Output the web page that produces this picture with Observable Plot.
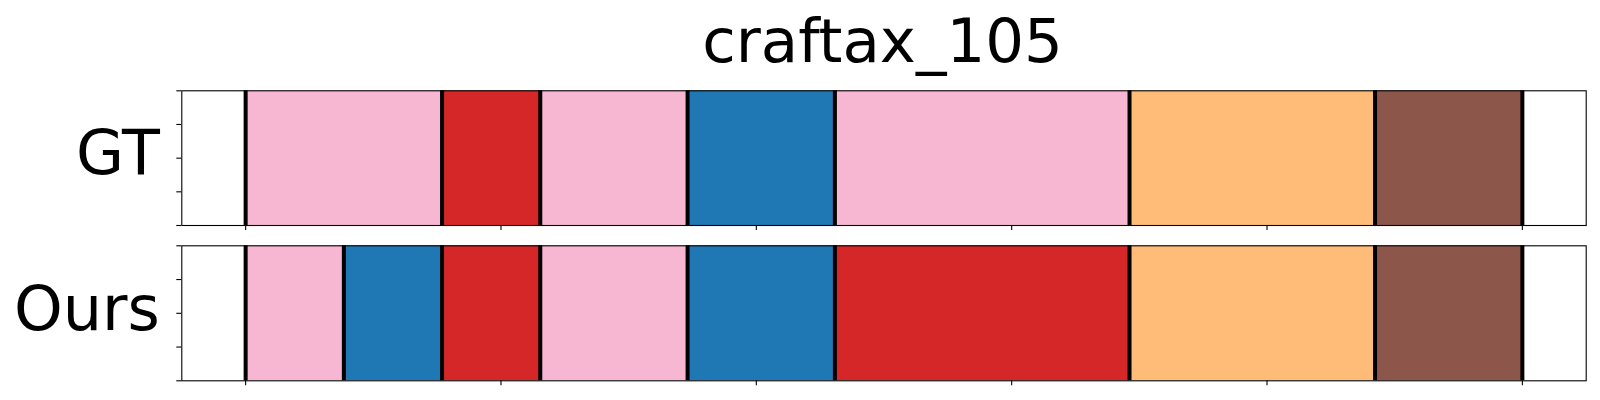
<!DOCTYPE html>
<html>
<head>
<meta charset="utf-8">
<script src="https://cdn.jsdelivr.net/npm/d3@7"></script>
<script src="https://cdn.jsdelivr.net/npm/@observablehq/plot@0.6"></script>
<style>
  html, body { margin: 0; padding: 0; background: white; }
  #chart { width: 1600px; height: 400px; position: relative; overflow: hidden; }
  #chart svg { display: block; }
</style>
</head>
<body>
<div id="chart"></div>
<script>
// ---- data ----
const title = "craftax_105";
const panelNames = ["GT", "Ours"];
const categories = ["A", "B", "C", "D", "E"];
const categoryColors = ["#f7b6d2", "#d62728", "#1f77b4", "#ffbb78", "#8c564b"];

const gtLabels = ["A", "B", "A", "C", "A", "D", "E"];
const gtStarts = [0, 4, 6, 9, 12, 18, 23];
const gtEnds   = [4, 6, 9, 12, 18, 23, 26];

const oursLabels = ["A", "C", "B", "A", "C", "B", "D", "E"];
const oursStarts = [0, 2, 4, 6, 9, 12, 18, 23];
const oursEnds   = [2, 4, 6, 9, 12, 18, 23, 26];

const totalLength = 26;
const xTickFractions = [0, 0.2, 0.4, 0.6, 0.8, 1.0];
const yTicks = [0, 0.25, 0.5, 0.75, 1];

// ---- build ----
const xTicks = xTickFractions.map(f => f * totalLength);
const pad = 0.05 * totalLength;
const xDomain = [0 - pad, totalLength + pad];

function segments(labels, starts, ends) {
  return labels.map((label, i) => ({label, start: starts[i], end: ends[i]}));
}
function boundaries(starts, ends) {
  return Array.from(new Set([...starts, ...ends])).sort((a, b) => a - b);
}

function panel(name, segs, bounds, opts) {
  const marks = [
    Plot.rect(segs, {x1: "start", x2: "end", y1: () => 0, y2: () => 1, fill: {value: "label", scale: "color"}}),
    Plot.ruleX(bounds, {x: d => d, stroke: "black", strokeWidth: 4}),
    Plot.frame({stroke: "black", strokeWidth: 1.1}),
    Plot.axisX({ticks: xTicks, tickFormat: () => "", tickSize: 5, label: null, strokeWidth: 1.1}),
    Plot.axisY({ticks: yTicks, tickFormat: () => "", tickSize: 5, label: null, strokeWidth: 1.1}),
    Plot.text([name], {text: d => d, frameAnchor: "left", textAnchor: "end", dx: -22, dy: -3.5, fontSize: 62, fill: "black"})
  ];
  if (opts.title) {
    marks.push(Plot.text([opts.title], {text: d => d, frameAnchor: "top", lineAnchor: "bottom", dy: -28.6, dx: -1.5, fontSize: 61, fill: "black"}));
  }
  return Plot.plot({
    width: 1600,
    height: opts.height,
    marginLeft: 181.3,
    marginRight: 14.3,
    marginTop: opts.marginTop,
    marginBottom: opts.marginBottom,
    style: {fontFamily: "DejaVu Sans", background: "transparent", overflow: "visible"},
    x: {domain: xDomain},
    y: {domain: [0, 1]},
    color: {type: "ordinal", domain: categories, range: categoryColors},
    marks
  });
}

const chart = document.getElementById("chart");
chart.appendChild(panel(panelNames[0], segments(gtLabels, gtStarts, gtEnds), boundaries(gtStarts, gtEnds),
  {height: 235, marginTop: 90.3, marginBottom: 10, title}));
chart.appendChild(panel(panelNames[1], segments(oursLabels, oursStarts, oursEnds), boundaries(oursStarts, oursEnds),
  {height: 165, marginTop: 10.3, marginBottom: 19.7}));
</script>
</body>
</html>
